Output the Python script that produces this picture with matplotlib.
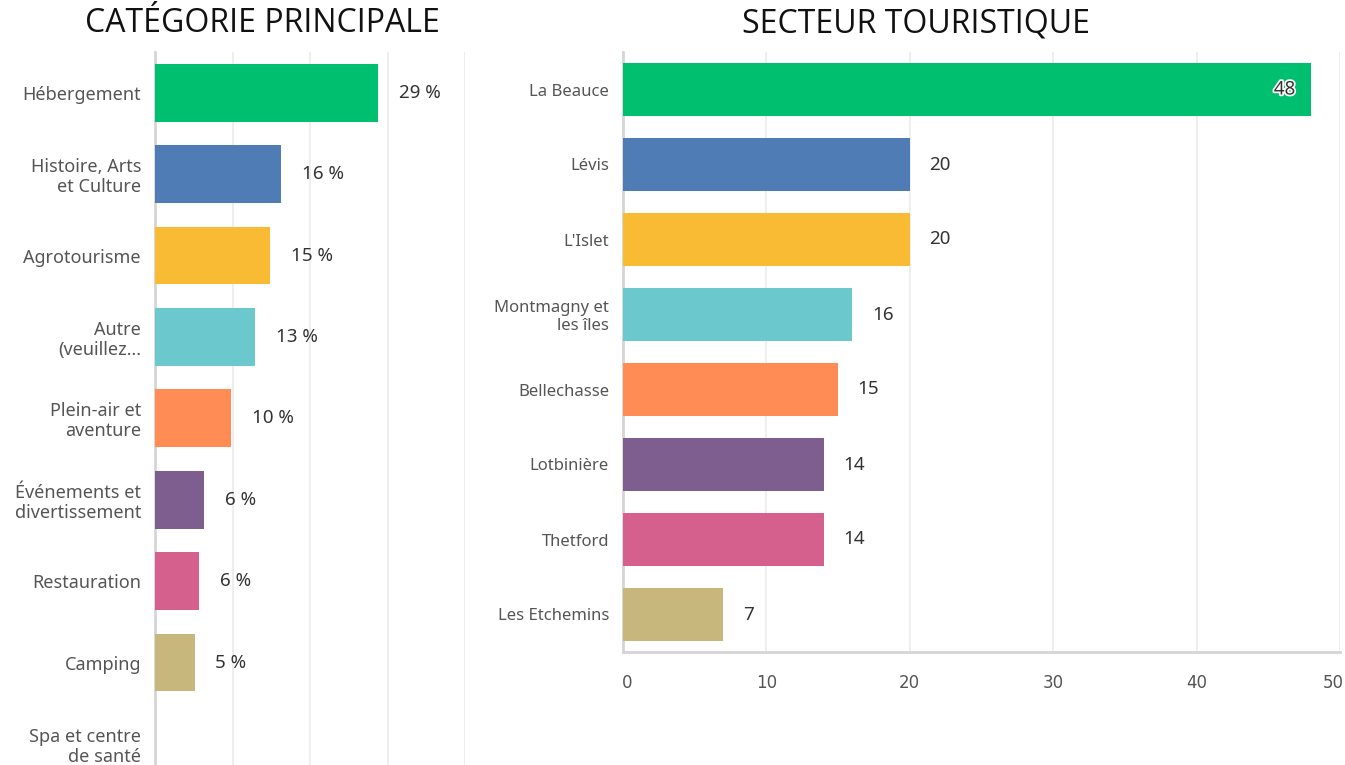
import matplotlib
matplotlib.use("Agg")
import matplotlib.pyplot as plt
import matplotlib.patheffects as pe
import matplotlib.transforms as mtrans

# ---- data ----
cat_labels = ["Hébergement", "Histoire, Arts\net Culture", "Agrotourisme",
              "Autre\n(veuillez...", "Plein-air et\naventure",
              "Événements et\ndivertissement", "Restauration", "Camping",
              "Spa et centre\nde santé"]
cat_values = [28.8, 16.3, 14.8, 12.9, 9.8, 6.3, 5.7, 5.1, 0]
cat_text = ["29 %", "16 %", "15 %", "13 %", "10 %", "6 %", "6 %", "5 %", "0 %"]

sect_labels = ["La Beauce", "Lévis", "L'Islet", "Montmagny et\nles îles",
               "Bellechasse", "Lotbinière", "Thetford", "Les Etchemins"]
sect_values = [48, 20, 20, 16, 15, 14, 14, 7]

colors = ["#00BF6F", "#507CB6", "#F9BB33", "#6BC8CD", "#FF8B55",
          "#7D5E8E", "#D5608D", "#C8B77D", "#C8B77D"]

W, H = 1345, 765
fig = plt.figure(figsize=(W / 100, H / 100), dpi=100)

label_font = ["Noto Sans", "DejaVu Sans"]
title_font = ["Open Sans", "DejaVu Sans"]
grid_c = "#EBEBEB"
spine_c = "#D5D5D5"
tick_c = "#555555"
val_c = "#333333"

def px_axes(x0, y0, x1, y1):
    return fig.add_axes([x0 / W, 1 - y1 / H, (x1 - x0) / W, (y1 - y0) / H])

# ---- left chart ----
n = len(cat_labels)
slot = 81.4
top = 52
ax1 = px_axes(155, top, 465, top + slot * n)
ypos = list(range(n))
ax1.barh(ypos, cat_values, height=0.71, color=colors[:n], zorder=3)
ax1.set_ylim(n - 0.5, -0.5)
ax1.set_xlim(0, 40)
ax1.set_xticks([10, 20, 30, 40])
ax1.grid(axis="x", color=grid_c, linewidth=1.2, zorder=0)
ax1.tick_params(axis="x", length=0, labelbottom=False)
ax1.set_yticks(ypos)
ax1.set_yticklabels(cat_labels, fontsize=13, color=tick_c, family=label_font,
                    linespacing=1.15)
ax1.tick_params(axis="y", length=0, pad=10)
for s in ["top", "right", "bottom"]:
    ax1.spines[s].set_visible(False)
ax1.spines["left"].set_color(spine_c)
ax1.spines["left"].set_linewidth(2)
for y, v, t in zip(ypos, cat_values, cat_text):
    if v > 0:
        ax1.annotate(t, (v, y), xytext=(15, 0), textcoords="offset points",
                     ha="left", va="center", fontsize=13.5, color=val_c,
                     family=label_font, fontweight="medium")

fig.text(262 / W, 1 - 24 / H, "CATÉGORIE PRINCIPALE", ha="center", va="center",
         fontsize=23, color="#111111", family=title_font)

# ---- right chart ----
m = len(sect_labels)
ax2 = px_axes(623, 52, 1340, 652)
ypos2 = list(range(m))
ax2.barh(ypos2, sect_values, height=0.71, color=colors[:m], zorder=3)
ax2.set_ylim(m - 0.5, -0.5)
ax2.set_xlim(0, 50)
ax2.set_xticks([0, 10, 20, 30, 40, 50])
ax2.grid(axis="x", color=grid_c, linewidth=1.2, zorder=0)
ax2.tick_params(axis="x", length=0, pad=16, labelsize=12, labelcolor=tick_c)
xlabs = ax2.get_xticklabels()
for lab in xlabs:
    lab.set_family(["Liberation Sans Narrow", "DejaVu Sans"])
xlabs[0].set_transform(xlabs[0].get_transform() +
                       mtrans.ScaledTranslation(4 / 100, 0, fig.dpi_scale_trans))
xlabs[-1].set_transform(xlabs[-1].get_transform() +
                        mtrans.ScaledTranslation(-7 / 100, 0, fig.dpi_scale_trans))
ax2.set_yticks(ypos2)
ax2.set_yticklabels(sect_labels, fontsize=12, color=tick_c, family=label_font,
                    linespacing=1.15)
ax2.tick_params(axis="y", length=0, pad=10)
for s in ["top", "right"]:
    ax2.spines[s].set_visible(False)
for s in ["left", "bottom"]:
    ax2.spines[s].set_color(spine_c)
    ax2.spines[s].set_linewidth(2)
for y, v in zip(ypos2, sect_values):
    if v >= 40:
        ax2.annotate(str(v), (v, y), xytext=(-11.5, 0), textcoords="offset points",
                     ha="right", va="center", fontsize=13.5, color=val_c,
                     family=label_font, fontweight="medium",
                     path_effects=[pe.withStroke(linewidth=2.5, foreground="white")])
    else:
        ax2.annotate(str(v), (v, y), xytext=(14, 0), textcoords="offset points",
                     ha="left", va="center", fontsize=13.5, color=val_c,
                     family=label_font, fontweight="medium")

fig.text(916 / W, 1 - 24 / H, "SECTEUR TOURISTIQUE", ha="center", va="center",
         fontsize=23, color="#111111", family=title_font)

fig.savefig("out.png", dpi=100, facecolor="white")
